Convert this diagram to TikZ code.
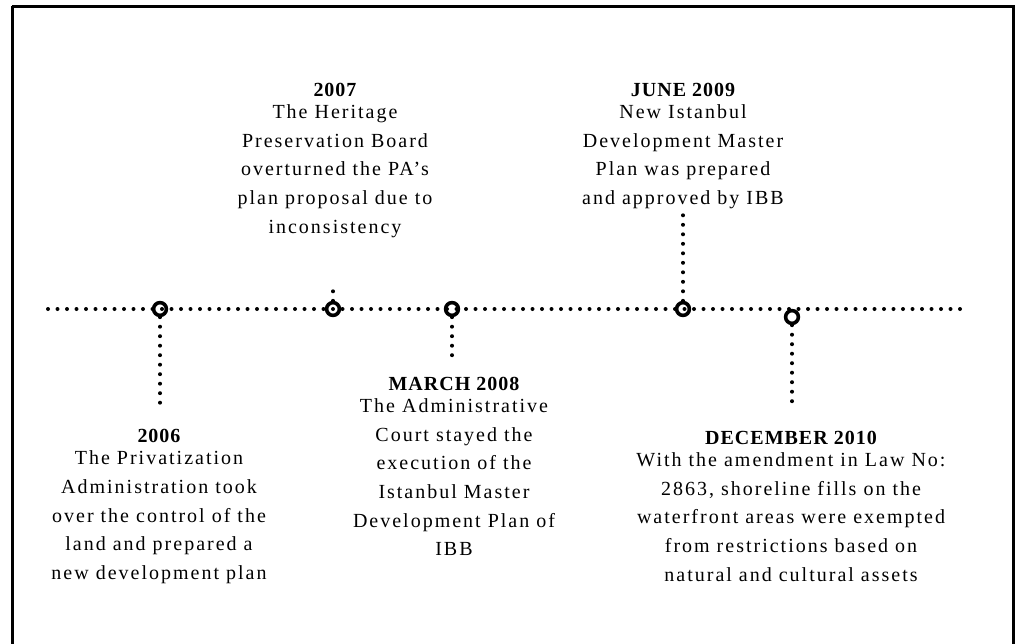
\documentclass[tikz,border=0pt]{standalone}
\usepackage{fontspec}
\setmainfont{Liberation Serif}
\newfontfamily\bodyfont[LetterSpace=10]{Liberation Serif}
\newfontfamily\titlefont[LetterSpace=5]{Liberation Serif Bold}
\newcommand{\ttl}[1]{{\titlefont #1}\\[-6.4pt]}
\begin{document}
\begin{tikzpicture}[x=1pt,y=-1pt,
  dotline/.style={line width=4pt, line cap=round, dash pattern=on 0pt off 9.5pt},
  ring/.style={circle, draw, line width=3.6pt, minimum size=12.8pt, inner sep=0pt},
  event/.style={align=center, anchor=base, inner sep=0pt, font=\fontsize{20}{28.7}\bodyfont}]
\useasboundingbox (0,0) rectangle (1018,643);
\draw[line width=3pt] (12,6) -- (1013,6) -- (1013,660);
\draw[line width=3pt] (12,6) -- (12,660);
% timeline ends
\coordinate (L) at (48,309);
\coordinate (R) at (968,309);
\node[ring] (c1) at (160,309) {};
\node[ring] (c2) at (333,309) {};
\node[ring] (c3) at (452,309) {};
\node[ring] (c4) at (683,309) {};
\node[ring] (c5) at (792,317) {};
\draw[dotline] (L) -- (R);
% stems
\coordinate (s1) at (160,410);
\coordinate (s2) at (333,286);
\coordinate (s3) at (452,362);
\coordinate (s4) at (683,215);
\coordinate (s5) at (792,407);
\draw[dotline] (c1.south) -- (s1);
\draw[dotline] (c2.north) -- (s2);
\draw[dotline] (c3.south) -- (s3);
\draw[dotline] (c4.north) -- (s4);
\draw[dotline] (c5.south) -- (s5);
% texts (anchor = baseline of last line)
\node[event] (t1) at (159,579.6) {\ttl{2006}The Privatization\\Administration took\\over the control of the\\land and prepared a\\new development plan};
\node[event] (t2) at (335,233.1) {\ttl{2007}The Heritage\\Preservation Board\\overturned the PA’s\\plan proposal due to\\inconsistency};
\node[event] (t3) at (454,555.8) {\ttl{MARCH 2008}The Administrative\\Court stayed the\\execution of the\\Istanbul Master\\Development Plan of\\IBB};
\node[event] (t4) at (683,204.4) {\ttl{JUNE 2009}New Istanbul\\Development Master\\Plan was prepared\\and approved by IBB};
\node[event] (t5) at (791,581.1) {\ttl{DECEMBER 2010}With the amendment in Law No:\\2863, shoreline fills on the\\waterfront areas were exempted\\from restrictions based on\\natural and cultural assets};
\end{tikzpicture}
\end{document}
